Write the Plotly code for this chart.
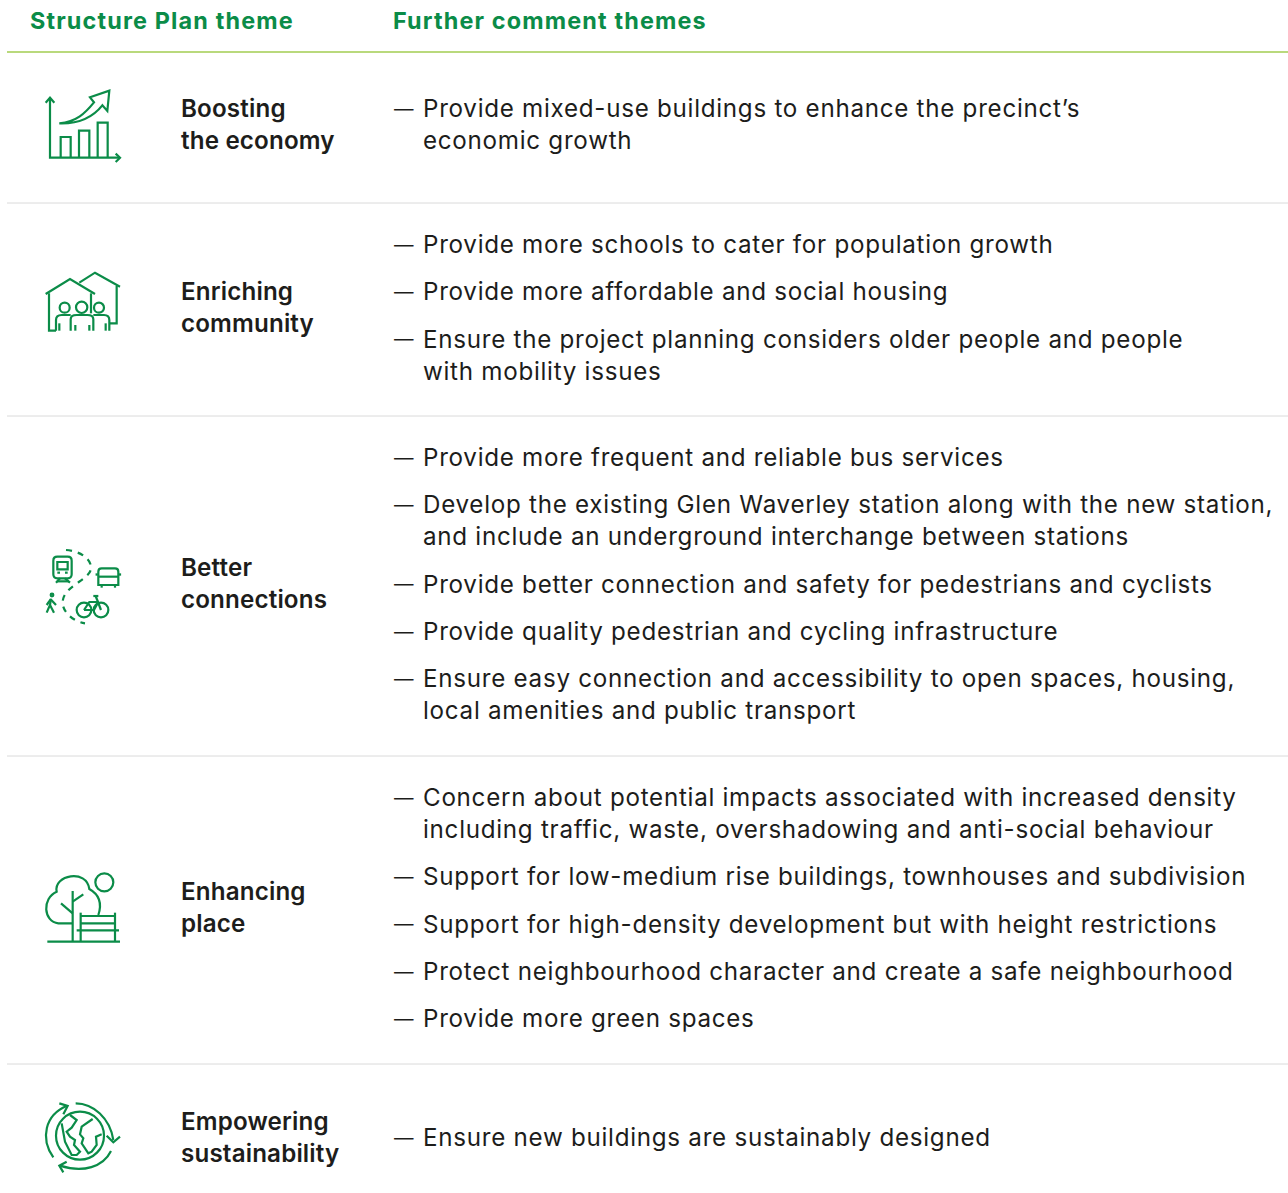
import plotly.graph_objects as go

# ---------- content ----------
HEADERS = ["Structure Plan theme", "Further comment themes"]
THEMES = [
    ["Boosting", "the economy"],
    ["Enriching", "community"],
    ["Better", "connections"],
    ["Enhancing", "place"],
    ["Empowering", "sustainability"],
]
COMMENTS = [
    [["Provide mixed-use buildings to enhance the precinct’s", "economic growth"]],
    [["Provide more schools to cater for population growth"],
     ["Provide more affordable and social housing"],
     ["Ensure the project planning considers older people and people", "with mobility issues"]],
    [["Provide more frequent and reliable bus services"],
     ["Develop the existing Glen Waverley station along with the new station,",
      "and include an underground interchange between stations"],
     ["Provide better connection and safety for pedestrians and cyclists"],
     ["Provide quality pedestrian and cycling infrastructure"],
     ["Ensure easy connection and accessibility to open spaces, housing,",
      "local amenities and public transport"]],
    [["Concern about potential impacts associated with increased density",
      "including traffic, waste, overshadowing and anti-social behaviour"],
     ["Support for low-medium rise buildings, townhouses and subdivision"],
     ["Support for high-density development but with height restrictions"],
     ["Protect neighbourhood character and create a safe neighbourhood"],
     ["Provide more green spaces"]],
    [["Ensure new buildings are sustainably designed"]],
]

# ---------- layout and style ----------
W, H = 1288, 1193
GREEN, INK = "#0B8C48", "#1D1D1B"
RULE, HEAD_RULE = "#DADADA", "#B9D97C"
FONT = "Inter"
BODY_SIZE, HEAD_SIZE, DASH_SIZE = 24.2, 23.4, 19.5
ROW_RULES = [203, 416, 756, 1064]
FIRST_LINE = [108.6, 244.6, 457.6, 797.6, 1137.6]
THEME_LINE = [108.6, 291.6, 567.6, 891.6, 1121.6]
LINE_H, PARA_H = 32, 47.3
ICON_ORIGIN = [(30, 80), (30, 260), (30, 540), (30, 865), (30, 1095)]

ICONS = [
    [("M60,55 L60,233 L268,233", None), ("M47,68 L60,53 L73,68", None), ("M257,221 L270,233 L257,246", None),
     ("M92,233 L92,171 L122,171 L122,233", None), ("M147,233 L147,152 L178,152 L178,233", None),
     ("M203,233 L203,128 L233,128 L233,233", None),
     ("M88,130 C140,125 165,100 192,67 L180,52 L238,32 L232,93 L217,76 C190,110 150,132 88,130 Z", None)],
    [("M47,102 L120,57 L195,102", None), ("M57,100 L57,212 L78,212", None), ("M183,100 L183,160", None),
     ("M148,68 L195,38 L270,80", None), ("M260,78 L260,190 L238,190", None),
     ("M78,212 L78,180 Q78,165 95,165 L122,165", None),
     ("M122,212 L122,178 Q122,165 140,165 L172,165 Q190,165 190,178 L190,212", None),
     ("M190,165 L222,165 Q238,165 238,180 L238,212", None),
     ("M88,190 L88,212", None), ("M136,195 L136,212", None), ("M178,195 L178,212", None), ("M227,190 L227,212", None),
     ("C104,143,15", None), ("C155,142,17", None), ("C207,143,15", None)],
    [("M108,30 C150,32 190,60 182,90 C175,120 100,140 98,185 C96,215 130,245 165,250", "6px,6px"),
     ("M82,50 L113,50 Q125,50 125,62 L125,103 Q125,115 113,115 L82,115 Q70,115 70,103 L70,62 Q70,50 82,50 Z", None),
     ("M82,66 L113,66 L113,88 L82,88 Z", None), ("M82,98 L90,98", None), ("M105,98 L113,98", None),
     ("M90,115 L78,128", None), ("M105,115 L120,128", None), ("M82,124 L116,124", None),
     ("M215,85 L255,85 Q265,85 265,95 L265,135 L205,135 L205,95 Q205,85 215,85 Z", None),
     ("M205,110 L265,110", None), ("M200,100 L200,107", None), ("M270,100 L270,107", None),
     ("M215,135 L215,143", None), ("M255,135 L255,143", None),
     ("C66,165,4", None), ("M63,176 L60,195 L50,218", None), ("M60,195 L72,218", None), ("M64,180 L78,195", None), ("M62,178 L50,195", None),
     ("C162,210,22", None), ("C213,210,22", None),
     ("M190,168 L205,168", None), ("M197,168 L213,210", None), ("M162,210 L178,186 L205,186", None),
     ("M162,210 L192,210 L205,186", None)],
    [("M128,175 L85,175 C40,170 35,100 80,80 C70,30 170,10 178,72 C210,90 215,120 205,150", None),
     ("M128,78 L128,230", None), ("M128,110 L160,88", None), ("M128,145 L93,115", None),
     ("C223,52,27", None),
     ("M152,143 L152,230", None), ("M255,143 L255,230", None), ("M152,153 L255,153", None),
     ("M152,175 L255,175", None), ("M140,196 L267,196", None), ("M52,230 L270,230", None)],
    [("C150,122,72", None),
     ("M137,25 C190,25 240,70 250,135", None), ("M230,122 L250,142 L270,125", None),
     ("M243,168 C220,215 160,235 90,212", None), ("M110,200 L88,212 L100,232", None),
     ("M70,187 C30,130 45,60 110,33", None), ("M88,25 L113,33 L100,58", None),
     ("M120,60 L140,75 L125,98 L110,110 L120,125 L135,135 L132,150 L150,170 L140,180 L125,180 L105,140 L95,85", None),
     ("M188,72 L155,95 L150,118 L160,130 L155,145 L175,175 L185,170 L200,150 L198,125 L215,118", None)],
]


def to_page(token_x, token_y, origin):
    return f"{origin[0] + token_x / 3:.2f},{origin[1] + token_y / 3:.2f}"


def icon_shape(spec, dash, origin):
    line = dict(color=GREEN, width=2.2)
    if dash:
        line["dash"] = dash
    if spec.startswith("C") and spec.count(",") == 2 and " " not in spec:
        cx, cy, r = (float(v) for v in spec[1:].split(","))
        x0, y0 = origin[0] + (cx - r) / 3, origin[1] + (cy - r) / 3
        x1, y1 = origin[0] + (cx + r) / 3, origin[1] + (cy + r) / 3
        return dict(type="circle", xref="x", yref="y", x0=x0, y0=y0, x1=x1, y1=y1, line=line)
    out = []
    for tok in spec.split():
        cmd = tok[0] if tok[0].isalpha() else ""
        body = tok[1:] if cmd else tok
        if body:
            xs, ys = body.split(",")
            out.append(cmd + to_page(float(xs), float(ys), origin))
        else:
            out.append(cmd)
    return dict(type="path", xref="x", yref="y", path=" ".join(out), line=line)


def text(x, y, s, size=BODY_SIZE, color=INK, weight=400):
    return dict(x=x, y=y, xref="x", yref="y", text=s, showarrow=False, xanchor="left", yanchor="middle",
                align="left", font=dict(family=FONT, size=size, color=color, weight=weight))


shapes, notes = [], []
shapes.append(dict(type="line", xref="x", yref="y", x0=7, x1=W, y0=52, y1=52, line=dict(color=HEAD_RULE, width=2)))
for y in ROW_RULES:
    shapes.append(dict(type="line", xref="x", yref="y", x0=7, x1=W, y0=y, y1=y, line=dict(color=RULE, width=1)))

notes.append(text(28, 20.5, HEADERS[0], HEAD_SIZE, GREEN, 700))
notes.append(text(391, 20.5, HEADERS[1], HEAD_SIZE, GREEN, 700))

for i, theme in enumerate(THEMES):
    for j, line in enumerate(theme):
        notes.append(text(178.5, THEME_LINE[i] + j * LINE_H, line, BODY_SIZE, INK, 600))
    y = FIRST_LINE[i]
    for para in COMMENTS[i]:
        notes.append(text(392, y, "—", DASH_SIZE))
        for k, line in enumerate(para):
            notes.append(text(421, y + k * LINE_H, line))
        y += (len(para) - 1) * LINE_H + PARA_H
    for spec, dash in ICONS[i]:
        shapes.append(icon_shape(spec, dash, ICON_ORIGIN[i]))

fig = go.Figure()
fig.update_layout(
    width=W, height=H, margin=dict(l=0, r=0, t=0, b=0), autosize=False,
    paper_bgcolor="white", plot_bgcolor="white", showlegend=False,
    xaxis=dict(range=[0, W], visible=False, fixedrange=True),
    yaxis=dict(range=[H, 0], visible=False, fixedrange=True),
    shapes=shapes, annotations=notes,
)
POST = """
document.body.style.margin='0';
document.querySelectorAll('.annotation-text').forEach(function(t){
  var w=t.style.fontWeight;
  t.style.letterSpacing = (w=='700') ? '1.15px' : (w=='600') ? '0.15px' : '0.72px';
});
"""
fig.write_html("out.html", config=dict(displayModeBar=False), post_script=POST)
